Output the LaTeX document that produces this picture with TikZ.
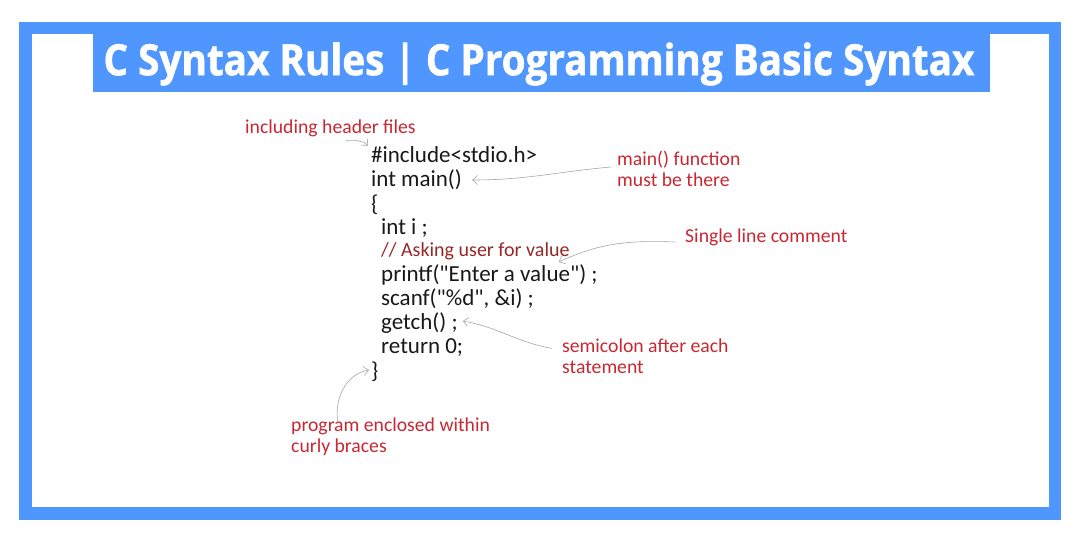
\documentclass[tikz,border=0pt]{standalone}
\usepackage{fontspec}
\setmainfont{Carlito}
\newfontfamily\titlefont[FakeStretch=0.9, FakeBold=1.2]{Open Sans}
\usetikzlibrary{arrows.meta}
\definecolor{frameblue}{RGB}{79,150,255}
\definecolor{notered}{RGB}{200,40,50}
\definecolor{cmtred}{RGB}{150,40,40}
\definecolor{codeblack}{RGB}{25,25,25}
\newcommand{\dq}{\textquotedbl}
\begin{document}
\begin{tikzpicture}[x=1pt, y=-1pt,
    code/.style={anchor=west, inner sep=0, text=codeblack, font=\fontsize{23}{27}\selectfont},
    note/.style={anchor=west, inner sep=0, text=notered, align=left, font=\fontsize{19.7}{21}\selectfont},
    pointer/.style={->, draw=gray!70, line width=0.6pt},
    >={Straight Barb[length=5pt, width=9pt]}]
    \useasboundingbox (0,0) rectangle (1080,536);
    \fill[white] (0,0) rectangle (1080,536);
    % frame and title band
    \fill[frameblue] (19,22) rectangle (1061,520);
    \fill[white] (32,34) rectangle (1049,507);
    \fill[frameblue] (93,34) rectangle (990,92);
    \node[text=white, font=\titlefont\bfseries\fontsize{43}{46}\selectfont] (title) at (539,64) {C Syntax Rules | C Programming Basic Syntax};
    % code lines
    \node[code] (inc) at (371,155) {\#include<stdio.h>};
    \node[code] (main) at (371,180) {int main()};
    \node[code] (open) at (371,205) {\{};
    \node[code] (decl) at (381,228) {int i ;};
    \node[code, text=cmtred, font=\fontsize{20}{24}\selectfont] (cmt) at (381,251) {// Asking user for value};
    \node[code] (prnt) at (381,275) {printf(\dq Enter a value\dq) ;};
    \node[code] (scan) at (381,299) {scanf(\dq\%d\dq, \&i) ;};
    \node[code] (getc) at (381,323) {getch() ;};
    \node[code] (ret) at (381,348) {return 0;};
    \node[code] (close) at (371,372) {\}};
    % notes
    \node[note] (hdr) at (245,128) {including header files};
    \node[note] (mainnote) at (617,169) {main() function\\must be there};
    \node[note] (cmtnote) at (685,237) {Single line comment};
    \node[note] (seminote) at (562,356) {semicolon after each\\statement};
    \node[note] (bracenote) at (291,437) {program enclosed within\\curly braces};
    % pointers
    \draw[pointer] ([xshift=-70pt, yshift=-4pt]hdr.south east) to[out=0, in=135] ([xshift=-3pt, yshift=1pt]inc.north west);
    \draw[pointer] ([xshift=-6pt, yshift=2pt]mainnote.west) to[out=185, in=0] ([xshift=10pt]main.east);
    \draw[pointer] ([xshift=-10pt, yshift=-5pt]cmtnote.west) to[out=178, in=25] ([xshift=-11pt, yshift=-11pt]cmt.east);
    \draw[pointer] ([xshift=-10pt, yshift=-10pt]seminote.north west) to[out=170, in=-10] ([xshift=5pt, yshift=2pt]getc.east);
    \draw[pointer] ([xshift=47pt, yshift=-6pt]bracenote.north west) to[out=100, in=190] ([xshift=-2pt, yshift=2pt]close.west);
\end{tikzpicture}
\end{document}
